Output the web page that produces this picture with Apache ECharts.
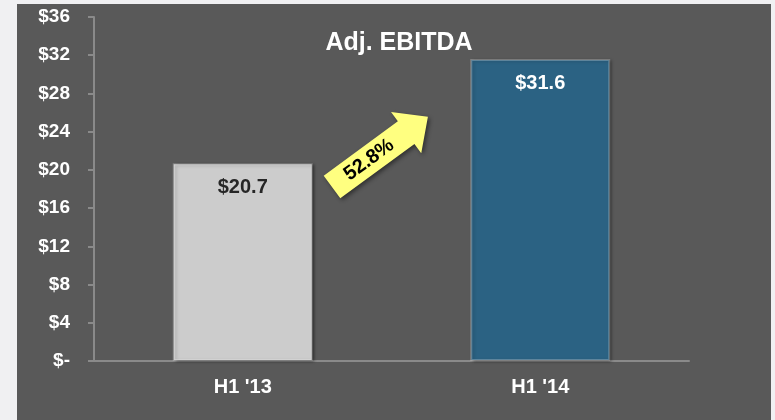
<!DOCTYPE html>
<html>
<head>
<meta charset="utf-8">
<script src="https://cdn.jsdelivr.net/npm/echarts@6/dist/echarts.min.js"></script>
<style>
  html, body { margin: 0; padding: 0; background: #f0f0f2; }
  #panel { position: absolute; left: 17px; top: 4px; width: 754px; height: 416px; background: #595959; }
  #chart { position: absolute; left: 0; top: 0; width: 775px; height: 420px; }
</style>
</head>
<body>
<div id="panel"></div>
<div id="chart"></div>
<script>
const categories = ["H1 '13", "H1 '14"]
const values = [20.7, 31.6]
const barColors = ['#cccccc', '#2b6283']
const labelColors = ['#262626', '#ffffff']
const growthText = '52.8%'

const chart = echarts.init(document.getElementById('chart'))
const font = 'Liberation Sans, Arial, sans-serif'

const option = {
  animation: false,
  title: {
    text: 'Adj. EBITDA',
    left: 394,
    top: 26,
    textAlign: 'center',
    textStyle: { color: '#ffffff', fontSize: 25, fontWeight: 'bold', fontFamily: font }
  },
  grid: { left: 94, right: 86, top: 17, bottom: 59 },
  xAxis: {
    type: 'category',
    data: categories,
    axisLine: { lineStyle: { color: '#8a8a8a', width: 2 } },
    axisTick: { length: 6, lineStyle: { color: '#8a8a8a', width: 2 } },
    axisLabel: { color: '#ffffff', fontSize: 20, fontWeight: 'bold', fontFamily: font, margin: 16 }
  },
  yAxis: {
    type: 'value',
    min: 0,
    max: 36,
    interval: 4,
    splitLine: { show: false },
    axisLine: { show: true, lineStyle: { color: '#8a8a8a', width: 2 } },
    axisTick: { show: true, length: 6, lineStyle: { color: '#8a8a8a', width: 2 } },
    axisLabel: {
      color: '#ffffff', fontSize: 19, fontWeight: 'bold', fontFamily: font, margin: 24,
      formatter: v => v === 0 ? '$-' : '$' + v
    }
  },
  series: [{
    type: 'bar',
    data: values.map((v, i) => ({ value: v, label: { color: labelColors[i] } })),
    barWidth: 140,
    itemStyle: {
      color: p => barColors[p.dataIndex],
      borderColor: 'rgba(255,255,255,0.25)',
      borderWidth: 2,
      shadowColor: 'rgba(0,0,0,0.55)',
      shadowBlur: 3,
      shadowOffsetX: 2,
      shadowOffsetY: 1
    },
    label: {
      show: true,
      position: 'insideTop',
      distance: 14,
      fontSize: 20,
      fontWeight: 'bold',
      fontFamily: font,
      formatter: p => '$' + p.value
    }
  }]
}
chart.setOption(option)

// growth arrow placed between the two bars
const p0 = chart.convertToPixel({ seriesIndex: 0 }, [0, 18.2])
const p1 = chart.convertToPixel({ seriesIndex: 0 }, [1, 18.2])
const ax = p0[0] + 0.3 * (p1[0] - p0[0])
const ay = p0[1]

chart.setOption({
  graphic: [{
    type: 'group',
    x: ax,
    y: ay,
    rotation: 36.3 * Math.PI / 180,
    children: [{
      type: 'polygon',
      shape: { points: [[0, -14], [92, -14], [92, -25.5], [119, 0], [92, 25.5], [92, 14], [0, 14]] },
      style: {
        fill: '#ffff80',
        shadowColor: 'rgba(0,0,0,0.45)',
        shadowBlur: 4,
        shadowOffsetX: 2,
        shadowOffsetY: 2
      }
    }, {
      type: 'text',
      x: 46,
      y: 0,
      style: {
        text: growthText,
        fill: '#000000',
        font: 'bold 20px ' + font,
        align: 'center',
        verticalAlign: 'middle'
      }
    }]
  }]
})
</script>
</body>
</html>
